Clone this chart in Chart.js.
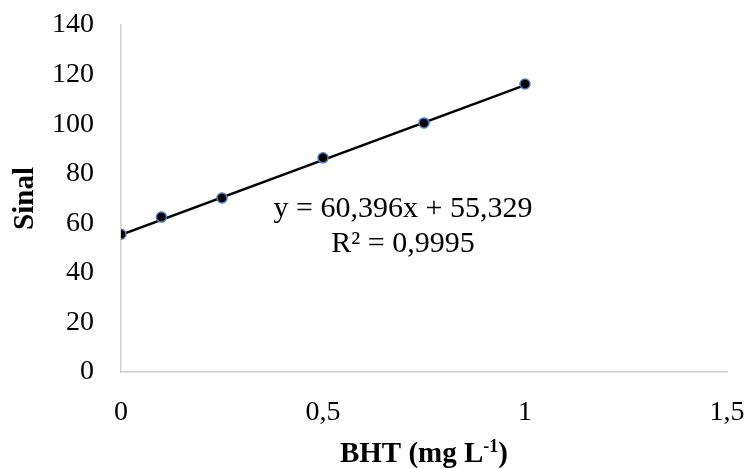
<!DOCTYPE html>
<html>
<head>
<meta charset="utf-8">
<script src="https://cdn.jsdelivr.net/npm/chart.js@4.4.0/dist/chart.umd.min.js"></script>
<style>
  html, body { margin: 0; padding: 0; background: #fff; }
  #wrap { width: 750px; height: 469px; }
</style>
</head>
<body>
<div id="wrap"><canvas id="curvaChart" width="750" height="469"></canvas></div>
<script>
// Curva analítica do BHT
const concentracoes = [0, 0.1, 0.25, 0.5, 0.75, 1];
const sinal = [55.6, 62.5, 70.2, 86.4, 100.5, 116.2];
const xTicks = [0, 0.5, 1, 1.5];
const yTicks = [0, 20, 40, 60, 80, 100, 120, 140];
// equação da linha de tendência mostrada no gráfico
const inclinacao = 60.396;
const intercepto = 55.329;
const r2 = '0,9995';

const serif = "'Liberation Serif', 'Times New Roman', serif";

const tendencia = [0, 1].map(x => ({ x: x, y: inclinacao * x + intercepto }));

const textos = {
    id: 'textos',
    afterDraw(chart) {
        const ctx = chart.ctx;
        const area = chart.chartArea;
        ctx.save();
        ctx.fillStyle = '#000';
        ctx.textBaseline = 'alphabetic';

        // título do eixo Y
        ctx.font = 'bold 29px ' + serif;
        ctx.textAlign = 'center';
        ctx.save();
        ctx.translate(33, (area.top + area.bottom) / 2);
        ctx.rotate(-Math.PI / 2);
        ctx.fillText('Sinal', 0, 0);
        ctx.restore();

        // título do eixo X com expoente
        const partA = 'BHT (mg L';
        const partB = '-1';
        const partC = ')';
        ctx.font = 'bold 29px ' + serif;
        const wA = ctx.measureText(partA).width;
        const wC = ctx.measureText(partC).width;
        ctx.font = 'bold 18px ' + serif;
        const wB = ctx.measureText(partB).width;
        const x0 = (area.left + area.right) / 2 - (wA + wB + wC) / 2;
        ctx.textAlign = 'left';
        ctx.font = 'bold 29px ' + serif;
        ctx.fillText(partA, x0, 462);
        ctx.font = 'bold 18px ' + serif;
        ctx.fillText(partB, x0 + wA, 452);
        ctx.font = 'bold 29px ' + serif;
        ctx.fillText(partC, x0 + wA + wB, 462);

        // equação
        ctx.textAlign = 'center';
        ctx.font = '30px ' + serif;
        const fmt = v => v.toFixed(3).replace('.', ',');
        ctx.fillText('y = ' + fmt(inclinacao) + 'x + ' + fmt(intercepto), 403, 217);
        ctx.fillText('R\u00B2 = ' + r2, 403, 252);
        ctx.restore();
    }
};

new Chart(document.getElementById('curvaChart'), {
    type: 'scatter',
    data: {
        datasets: [{
            type: 'line',
            data: tendencia,
            borderColor: '#000',
            borderWidth: 2.5,
            pointRadius: 0,
            fill: false,
            order: 2
        }, {
            data: concentracoes.map((x, i) => ({ x: x, y: sinal[i] })),
            backgroundColor: '#000',
            borderColor: '#4a7cc4',
            borderWidth: 1.5,
            pointRadius: 5,
            order: 1
        }]
    },
    options: {
        responsive: false,
        animation: false,
        layout: { padding: { left: 0, right: 23, top: 25, bottom: 0 } },
        plugins: {
            legend: { display: false },
            tooltip: { enabled: false }
        },
        scales: {
            x: {
                type: 'linear',
                min: 0,
                max: 1.5,
                afterBuildTicks: s => { s.ticks = xTicks.map(v => ({ value: v })); },
                afterFit: s => {
                    s.height = 469 - 372;
                    s.paddingLeft = 0;
                    s.paddingRight = 0;
                },
                grid: { display: false },
                border: { display: true, color: '#d0d0d0', width: 1.5 },
                ticks: {
                    color: '#000',
                    padding: 16,
                    maxRotation: 0,
                    font: { family: serif, size: 28 },
                    callback: v => String(v).replace('.', ',')
                }
            },
            y: {
                min: 0,
                max: 140,
                afterBuildTicks: s => { s.ticks = yTicks.map(v => ({ value: v })); },
                afterFit: s => {
                    s.width = 121;
                    s.paddingTop = 0;
                    s.paddingBottom = 0;
                },
                grid: { display: false },
                border: { display: true, color: '#d0d0d0', width: 1.5 },
                ticks: {
                    color: '#000',
                    padding: 19,
                    font: { family: serif, size: 28 }
                }
            }
        }
    },
    plugins: [textos]
});
</script>
</body>
</html>
